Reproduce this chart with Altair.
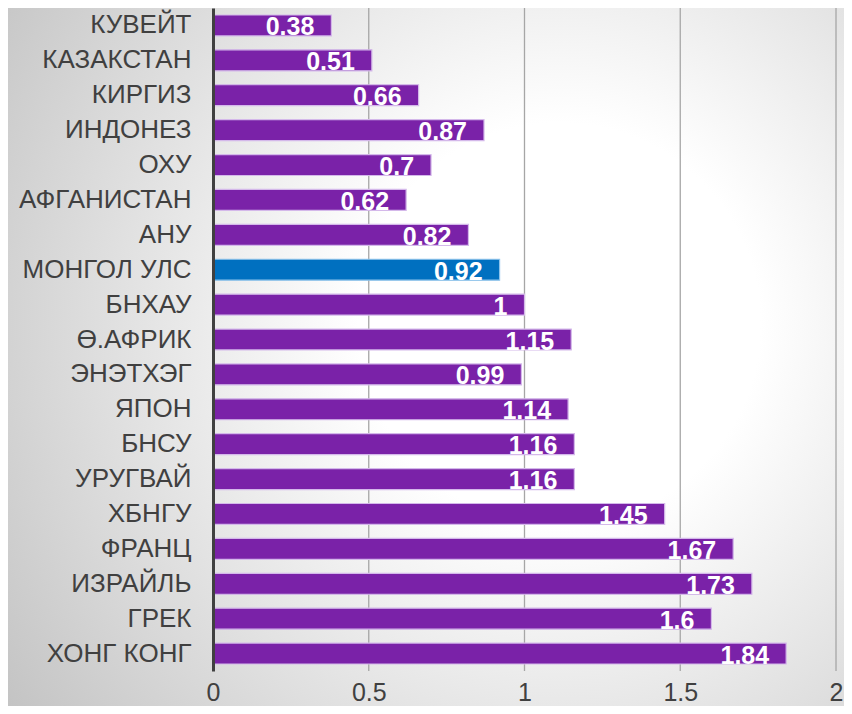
import altair as alt
import pandas as pd

countries = ["КУВЕЙТ", "КАЗАКСТАН", "КИРГИЗ", "ИНДОНЕЗ", "ОХУ", "АФГАНИСТАН", "АНУ",
             "МОНГОЛ УЛС", "БНХАУ", "Ө.АФРИК", "ЭНЭТХЭГ", "ЯПОН", "БНСУ", "УРУГВАЙ",
             "ХБНГУ", "ФРАНЦ", "ИЗРАЙЛЬ", "ГРЕК", "ХОНГ КОНГ"]
values = [0.38, 0.51, 0.66, 0.87, 0.7, 0.62, 0.82, 0.92, 1, 1.15, 0.99, 1.14, 1.16, 1.16,
          1.45, 1.67, 1.73, 1.6, 1.84]
highlight = "МОНГОЛ УЛС"
x_ticks = [0, 0.5, 1, 1.5, 2]

df = pd.DataFrame({
    "country": countries,
    "value": values,
    "label": [f"{v:g}" for v in values],
    "group": ["hl" if c == highlight else "base" for c in countries],
})
grid_df = pd.DataFrame({"tick": x_ticks[1:]})

W, H = 623, 663
PAD = {"left": 205, "top": 0, "right": 8, "bottom": 35}

gradient = alt.RadialGradient(
    gradient="radial",
    x1=0.66, y1=0.46, r1=0.0,
    x2=0.66, y2=0.46, r2=0.8,
    stops=[
        alt.GradientStop(offset=0, color="#ffffff"),
        alt.GradientStop(offset=0.3, color="#ffffff"),
        alt.GradientStop(offset=1, color="#c4c4c4"),
    ],
)

xscale = alt.Scale(domain=[0, 2])

bg = alt.Chart(alt.Data(values=[{"a": 1}])).mark_rect(fill=gradient).encode(
    x=alt.value(-PAD["left"]), x2=alt.value(W + PAD["right"]),
    y=alt.value(-PAD["top"]), y2=alt.value(H + PAD["bottom"]),
)

grid = alt.Chart(grid_df).mark_rule(color="#a6a6a6", strokeWidth=1.3).encode(
    x=alt.X("tick:Q", scale=xscale),
)

base = alt.Chart(df)

y_enc = alt.Y("country:N", sort=countries,
              scale=alt.Scale(paddingInner=0.4, paddingOuter=0.2),
              axis=alt.Axis(title=None, ticks=False, domain=True, domainColor="#404040",
                            domainWidth=3, labelPadding=22, labelFontSize=26,
                            labelColor="#404040", labelFont="Liberation Sans",
                            labelLimit=300, grid=False, zindex=1))

bars = base.mark_bar(strokeWidth=1.2).encode(
    x=alt.X("value:Q", scale=xscale,
            axis=alt.Axis(title=None, values=x_ticks, labelExpr="toString(datum.value)",
                          grid=False, domain=False, ticks=False, zindex=1,
                          labelFlush=False, labelAlign="center",
                          labelFontSize=25, labelColor="#404040",
                          labelFont="Liberation Sans", labelPadding=9)),
    y=y_enc,
    fill=alt.Fill("group:N", scale=alt.Scale(domain=["base", "hl"],
                                             range=["#7A22A8", "#0070C0"]), legend=None),
    stroke=alt.Stroke("group:N", scale=alt.Scale(domain=["base", "hl"],
                                                 range=["#d4b8ea", "#8ec4ec"]), legend=None),
)

labels = base.mark_text(align="right", baseline="middle", dx=-17, dy=2,
                        font="Liberation Sans", fontWeight="bold", fontSize=25,
                        color="white").encode(
    x=alt.X("value:Q", scale=xscale),
    y=alt.Y("country:N", sort=countries),
    text="label:N",
)

chart = alt.layer(bg, grid, bars, labels).properties(
    width=W, height=H,
    padding=PAD,
    autosize=alt.AutoSizeParams(type="none"),
    background="#dcdcdc",
).configure_view(stroke=None)

chart.save("out.html", embed_options={"renderer": "svg", "actions": False})
